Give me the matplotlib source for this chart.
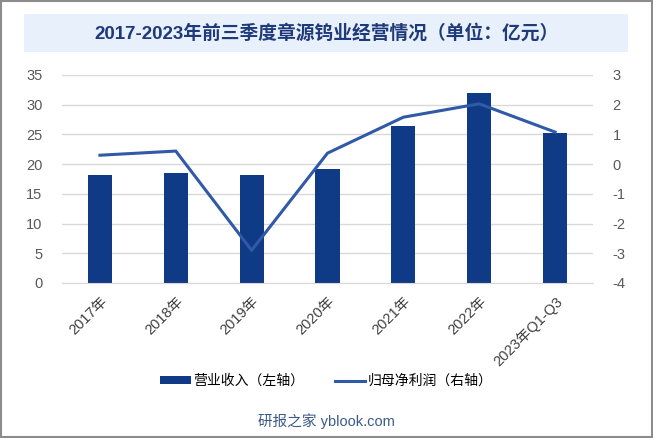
import matplotlib.pyplot as plt
import numpy as np
from matplotlib.patches import Rectangle

plt.rcParams['font.family'] = ['Liberation Sans', 'Noto Sans CJK SC', 'DejaVu Sans']
plt.rcParams['axes.unicode_minus'] = False

years = ["2017年", "2018年", "2019年", "2020年", "2021年", "2022年", "2023年Q1-Q3"]
revenue = [18.2, 18.5, 18.2, 19.2, 26.5, 31.9, 25.2]
net_profit = [0.30, 0.44, -2.90, 0.37, 1.58, 2.03, 1.08]

bar_color = "#0E3A86"
line_color = "#3059A8"

fig = plt.figure(figsize=(6.53, 4.38), dpi=100)
ax = fig.add_axes([62 / 653, 1 - 283 / 438, 531 / 653, 208 / 438])
ax2 = ax.twinx()

x = np.arange(len(years))
ax.bar(x, revenue, width=0.32, color=bar_color, label="营业收入（左轴）", zorder=2)
ax2.plot(x, net_profit, color=line_color, linewidth=2.2, label="归母净利润（右轴）", zorder=3)

ax.set_xlim(-0.5, len(years) - 0.5)
ax.set_ylim(0, 35)
ax.set_yticks(np.arange(0, 36, 5))
ax2.set_ylim(-4, 3)
ax2.set_yticks(np.arange(-4, 4, 1))

ax.yaxis.grid(True, color="#D9D9D9", linewidth=1, zorder=0)
ax.set_axisbelow(True)
for a in (ax, ax2):
    for s in a.spines.values():
        s.set_visible(False)
    a.tick_params(length=0, labelsize=10.5, labelcolor="#595959")
ax.spines['bottom'].set_visible(True)
ax.spines['bottom'].set_color("#D9D9D9")
ax.tick_params(axis='y', pad=14)
ax2.tick_params(axis='y', pad=14)

ax.set_xticks(x)
ax.set_xticklabels(years, rotation=45, ha="right", rotation_mode="anchor", fontsize=10.5, color="#404040")
ax.tick_params(axis='x', pad=8)

# legend
h1, l1 = ax.get_legend_handles_labels()
h2, l2 = ax2.get_legend_handles_labels()
fig.legend(h1 + h2, l1 + l2, loc="center", bbox_to_anchor=(0.5, 1 - 381 / 438), ncol=2,
           frameon=False, fontsize=10, handlelength=2.2, handletextpad=0.2,
           columnspacing=2.2, handleheight=0.5)

# title band
fig.patches.append(Rectangle((24 / 653, 1 - 52 / 438), 604 / 653, 38 / 438,
                             transform=fig.transFigure, facecolor="#E8F0FB", edgecolor="none"))
fig.text(0.5, 1 - 33 / 438, "2017-2023年前三季度章源钨业经营情况（单位：亿元）",
         ha="center", va="center", fontsize=13.5, fontweight="bold", color="#1F3A7A")

fig.text(0.5, 1 - 421 / 438, "研报之家 yblook.com", ha="center", va="center",
         fontsize=10.5, color="#3A5A8A")

# outer border
fig.patches.append(Rectangle((0.001, 0.002), 0.997, 0.996, transform=fig.transFigure,
                             facecolor="none", edgecolor="#8C8C8C", linewidth=1.5))

fig.savefig("out.png", dpi=100)
